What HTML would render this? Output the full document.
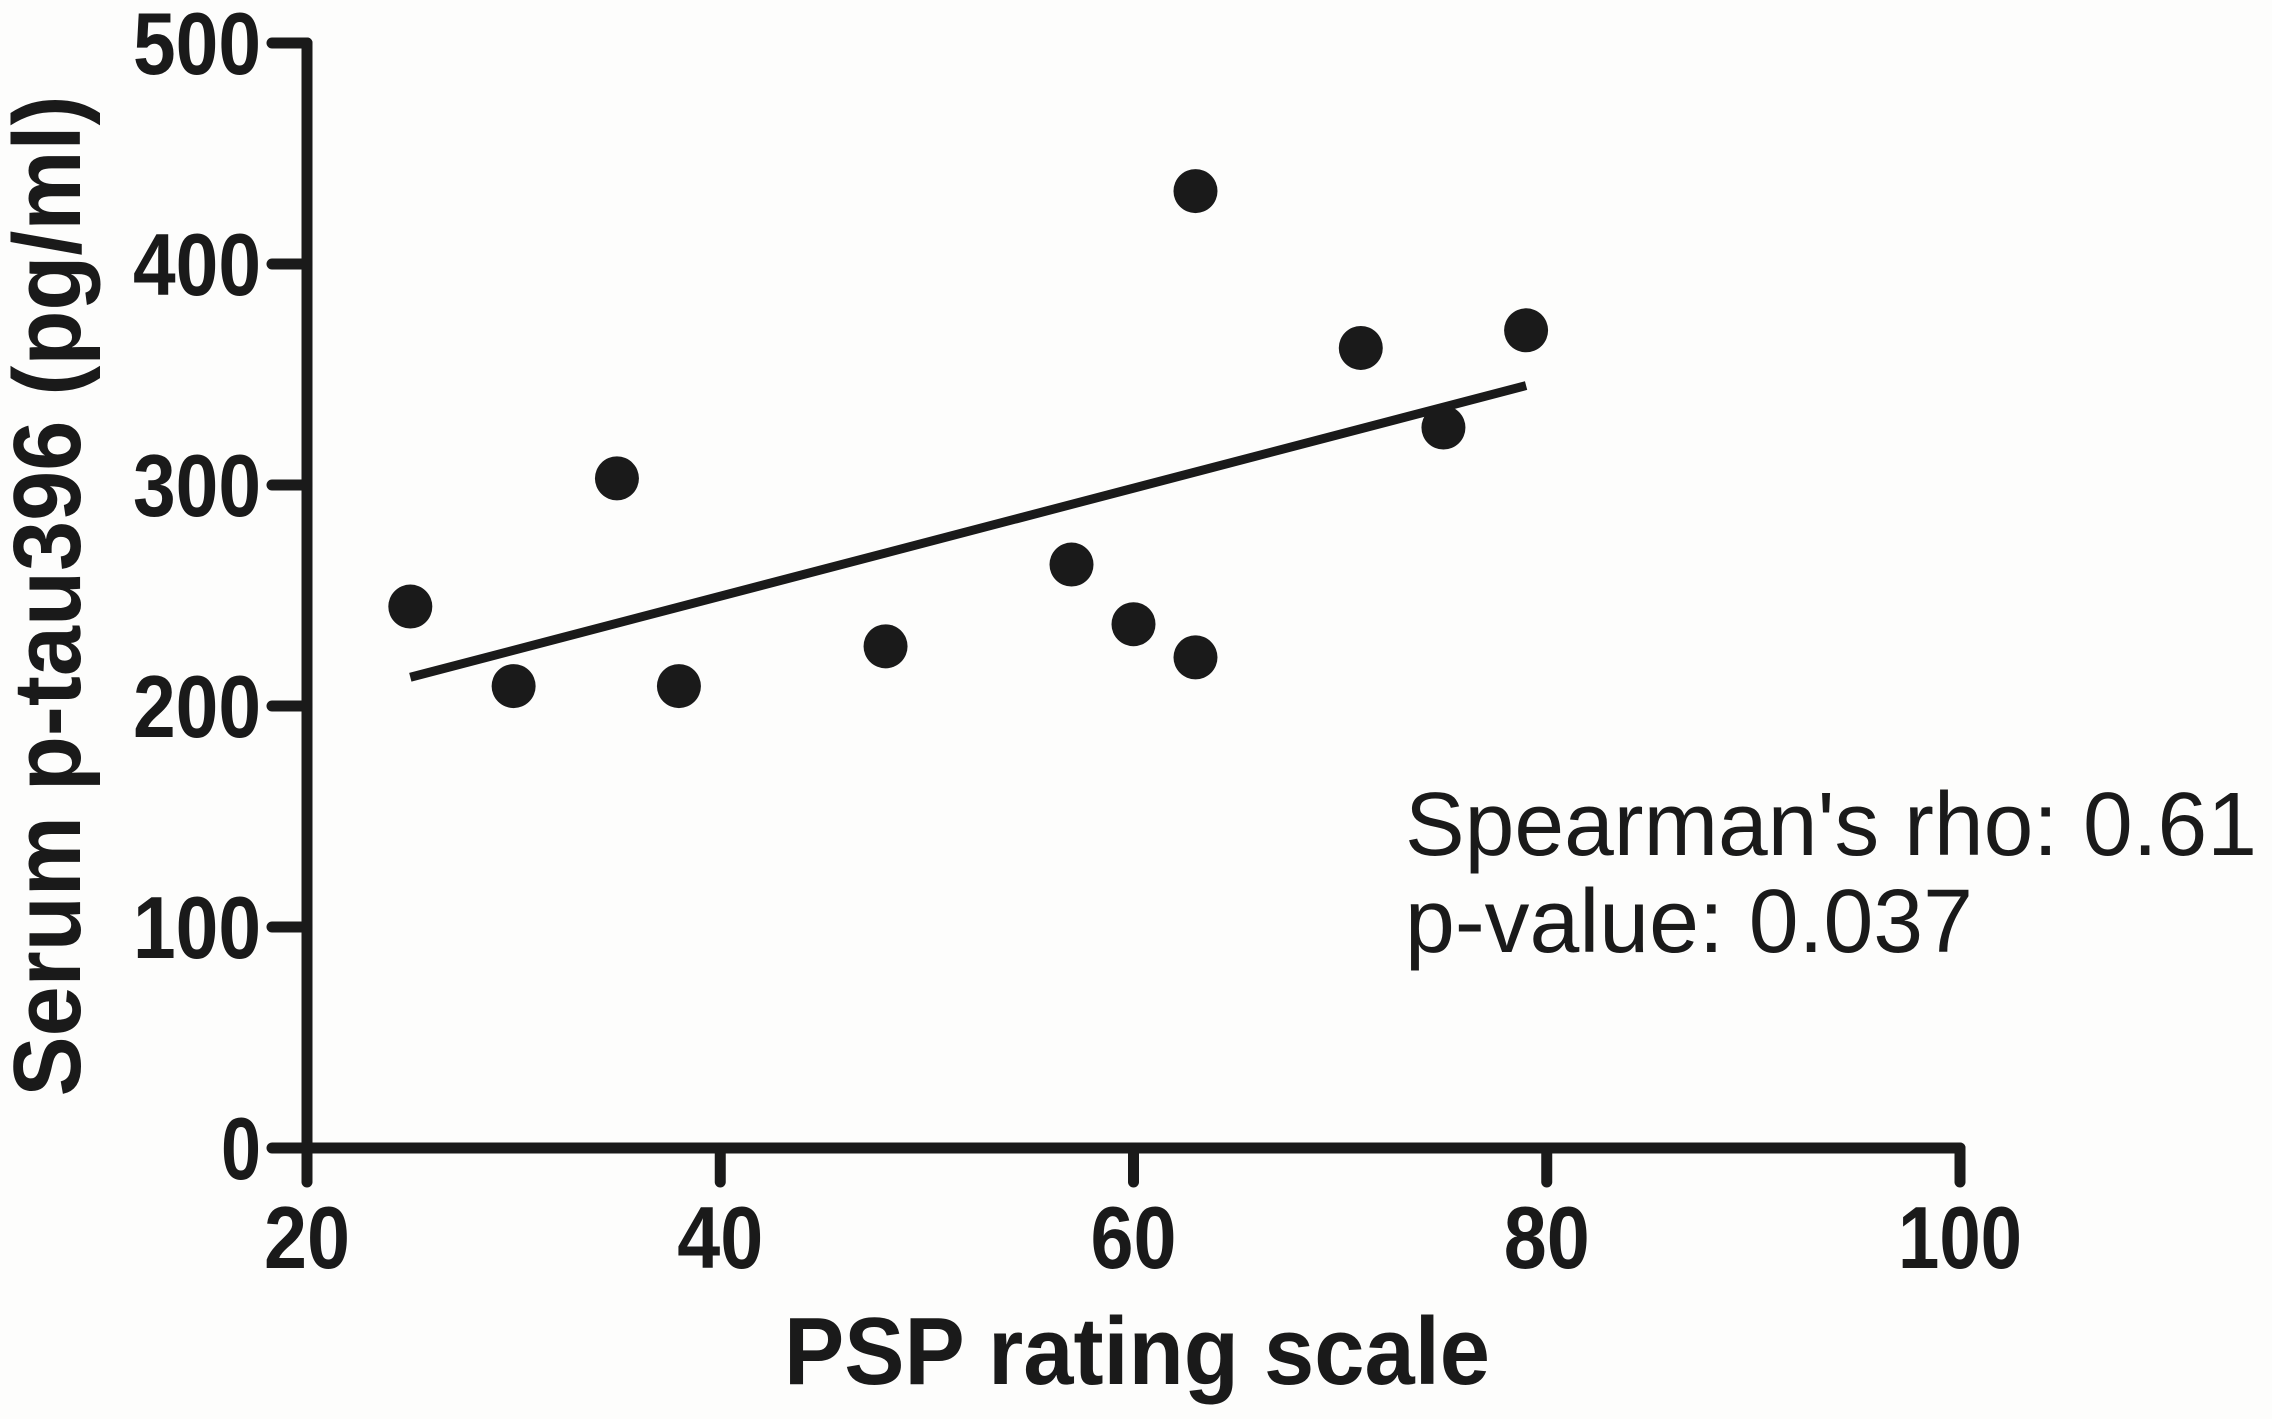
<!DOCTYPE html>
<html><head><meta charset="utf-8"><style>
html,body{margin:0;padding:0;background:#fdfdfc;}
svg{display:block;}
text{font-family:"Liberation Sans",sans-serif;fill:#1a1a1a;}
</style></head><body>
<svg id="chart" width="2272" height="1419" viewBox="0 0 2272 1419" xmlns="http://www.w3.org/2000/svg"></svg>
<script>
const xVals = [25,30,35,38,48,57,60,63,63,71,75,79];
const yVals = [245,209,303,209,227,264,237,222,433,362,326,370];
const xTicks = [20,40,60,80,100];
const yTicks = [0,100,200,300,400,500];
const fitX = [25,79];
const fitY = [213,345];

const svg = document.getElementById('chart');
const NS = 'http://www.w3.org/2000/svg';
const X0=307, X1=1960, Y0=1148, Y1=43;
const sx = v => X0 + (v-20)*(X1-X0)/80;
const sy = v => Y0 - v*(Y0-Y1)/500;
function mk(tag, attrs, parent){const e=document.createElementNS(NS,tag);for(const k in attrs)e.setAttribute(k,attrs[k]);(parent||svg).appendChild(e);return e;}

const axes = mk('g',{stroke:'#1a1a1a','stroke-width':11,'stroke-linecap':'round',fill:'none'});


mk('line',{x1:X0,y1:sy(500),x2:X0,y2:Y0},axes);
mk('line',{x1:X0,y1:Y0,x2:X1,y2:Y0},axes);
yTicks.forEach(v=>{
  mk('line',{x1:272,y1:sy(v),x2:X0,y2:sy(v)},axes);
  const t=mk('text',{x:261,y:sy(v)+31,'text-anchor':'end','font-size':88,'font-weight':'bold',textLength:v===0?40:128,lengthAdjust:'spacingAndGlyphs'});
  t.textContent=v;
  
  
});
xTicks.forEach(v=>{
  mk('line',{x1:sx(v),y1:Y0,x2:sx(v),y2:1182},axes);
  const t=mk('text',{x:sx(v),y:1268,'text-anchor':'middle','font-size':88,'font-weight':'bold',textLength:v===100?124:86,lengthAdjust:'spacingAndGlyphs'});
  t.textContent=v;
  
  
});

const fit=mk('line',{x1:sx(fitX[0]),y1:sy(fitY[0]),x2:sx(fitX[1]),y2:sy(fitY[1]),stroke:'#1a1a1a','stroke-width':9});



xVals.forEach((x,i)=>{
  const c=mk('circle',{cx:sx(x),cy:sy(yVals[i]),r:22,fill:'#1a1a1a'});
  
  
});

let t=mk('text',{x:1137,y:1384,'text-anchor':'middle','font-size':96,'font-weight':'bold',textLength:706,lengthAdjust:'spacingAndGlyphs'});
t.textContent='PSP rating scale';


t=mk('text',{x:0,y:0,'text-anchor':'middle','font-size':96,'font-weight':'bold',textLength:1001,lengthAdjust:'spacingAndGlyphs',transform:'translate(80,596) rotate(-90)'});
t.textContent='Serum p-tau396 (pg/ml)';


t=mk('text',{x:1405,y:855,'font-size':90,textLength:852,lengthAdjust:'spacingAndGlyphs'});
t.textContent="Spearman's rho: 0.61";


t=mk('text',{x:1405,y:952,'font-size':90,textLength:568,lengthAdjust:'spacingAndGlyphs'});
t.textContent='p-value: 0.037';


</script>
</body></html>
